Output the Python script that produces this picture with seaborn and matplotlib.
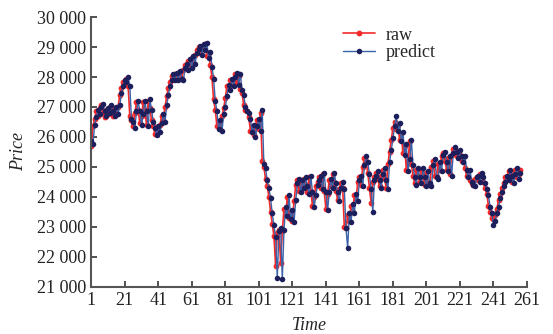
import numpy as np
import pandas as pd
import matplotlib
matplotlib.use("Agg")
import matplotlib.pyplot as plt
from matplotlib.ticker import FuncFormatter
import seaborn as sns

# raw price series
raw = [
    25700, 26350, 26600, 26850, 26700, 26950, 27050, 26800, 26650, 26900,
    26750, 27000, 26850, 26700, 26950, 26750, 27000, 27400, 27650, 27850,
    27800, 27950, 27700, 26700, 26550, 26350, 26800, 27150, 26900, 26450,
    26700, 27150, 26900, 26400, 27200, 26950, 26550, 26350, 26100, 26300,
    26200, 26400, 26700, 26550, 27000, 27350, 27650, 27850, 28050, 27950,
    28100, 27950, 28150, 28000, 27950, 28250, 28400, 28300, 28550, 28350,
    28650, 28500, 28750, 28900, 29000, 28800, 29050, 28950, 29100, 28700,
    28800, 28400, 28000, 27250, 26900, 26350, 26500, 26250, 26700, 26950,
    27300, 27700, 27600, 27900, 27750, 27950, 28100, 27800, 28050, 27600,
    27450, 27050, 26900, 26850, 26650, 26200, 26350, 26050, 26300, 26550,
    26250, 26800, 25200, 25000, 24600, 24350, 24000, 23500, 23100, 22700,
    21700, 22800, 22900, 21800, 22850, 23600, 23400, 24000, 23300, 23500,
    23200, 23850, 24400, 24550, 24200, 24500, 24350, 24600, 24400, 24150,
    24650, 24200, 23700, 24000, 24350, 24500, 24650, 24300, 24750, 24200,
    23600, 24100, 24550, 24350, 24750, 24500, 24200, 23900, 24250, 24450,
    24300, 23000, 22950, 23400, 23200, 23700, 23500, 24050, 23900, 24500,
    24650, 24400, 25000, 25300, 25200, 24800, 24300, 23800, 24500, 24650,
    24800, 24600, 24350, 24700, 24900, 24600, 24300, 25100, 25500, 25900,
    26300, 26500, 26250, 26400, 25900, 26100, 25450, 25700, 24900, 25200,
    25850, 25100, 24700, 24450, 24900, 24700, 24500, 24900, 24700, 24400,
    24800, 24500, 24400, 25000, 25200, 24700, 24650, 25100, 24900, 25350,
    25450, 25200, 24900, 25300, 24750, 25400, 25600, 25550, 25350, 25500,
    25400, 25200, 25300, 24950, 24700, 24850, 24550, 24450, 24400, 24600,
    24650, 24550, 24750, 24700, 24500, 24300, 24100, 23700, 23500, 23300,
    23250, 23400, 23600, 23900, 24100, 24300, 24450, 24650, 24600, 24850,
    24750, 24500, 24700, 24900, 24650, 24750, 24900,
]

# model prediction series
predict = [
    25850, 25750, 26400, 26650, 26900, 26750, 27000, 27100, 26850, 26700,
    26950, 26800, 27050, 26850, 26700, 27000, 26750, 27050, 27450, 27700,
    27900, 27850, 28000, 27700, 26600, 26500, 26300, 26850, 27200, 26850,
    26400, 26750, 27200, 26850, 26350, 27250, 26900, 26500, 26300, 26050,
    26350, 26150, 26450, 26750, 26500, 27050, 27400, 27700, 27900, 28100,
    27900, 28150, 27900, 28200, 27950, 27900, 28300, 28450, 28250, 28600,
    28300, 28700, 28450, 28800, 28950, 29050, 28750, 29100, 28900, 29150,
    28650, 28850, 28350, 27950, 27200, 26850, 26250, 26550, 26200, 26750,
    27000, 27350, 27750, 27550, 27950, 27700, 28000, 28150, 27750, 28100,
    27550, 27400, 27000, 26850, 26800, 26600, 26150, 26400, 26000, 26350,
    26600, 26200, 26900, 25100, 24950, 24550, 24300, 23950, 23450, 23050,
    22650, 21300, 22850, 22950, 21250, 22900, 23650, 23350, 24050, 23250,
    23550, 23150, 23900, 24450, 24600, 24150, 24550, 24300, 24650, 24350,
    24100, 24700, 24150, 23650, 24050, 24400, 24550, 24700, 24250, 24800,
    24150, 23550, 24150, 24600, 24300, 24800, 24450, 24150, 23850, 24300,
    24500, 24250, 22950, 22300, 23450, 23150, 23750, 23450, 24100, 23850,
    24550, 24700, 24350, 25050, 25350, 25150, 24750, 24250, 23500, 24550,
    24700, 24850, 24550, 24300, 24750, 24950, 24550, 24250, 25150, 25550,
    25950, 26350, 26700, 26200, 26450, 25850, 26150, 25400, 25750, 24850,
    25250, 25900, 25050, 24650, 24400, 24950, 24650, 24450, 24950, 24650,
    24350, 24850, 24450, 24350, 25050, 25250, 24650, 24600, 25150, 24850,
    25400, 25500, 25150, 24850, 25350, 24700, 25450, 25650, 25500, 25300,
    25550, 25350, 25150, 25350, 24900, 24650, 24900, 24500, 24400, 24350,
    24650, 24700, 24500, 24800, 24650, 24450, 24250, 24050, 23650, 23450,
    23050, 23200, 23450, 23650, 23950, 24150, 24350, 24500, 24700, 24550,
    24900, 24700, 24450, 24750, 24950, 24600, 24800,
]

time = list(range(1, len(raw) + 1))
x_ticks = list(range(1, 262, 20))
y_ticks = list(range(21000, 30001, 1000))

df = pd.DataFrame({"Time": time, "raw": raw, "predict": predict})

sns.set_style("ticks")
plt.rcParams["font.family"] = ["Liberation Serif", "DejaVu Serif"]

fig = plt.figure(figsize=(5.53, 3.34), dpi=100)
ax = fig.add_axes([0.165, 0.141, 0.788, 0.808])

sns.lineplot(data=df, x="Time", y="raw", ax=ax, color="#f42a2a", linewidth=1.2,
             marker="o", markersize=4.2, markeredgewidth=0, label="raw")
sns.lineplot(data=df, x="Time", y="predict", ax=ax, color="#3a62a8", linewidth=1.0,
             marker="o", markersize=4, markeredgewidth=0,
             markerfacecolor="#1c1f5c", label="predict")

ax.set_xlim(1, 261)
ax.set_ylim(21000, 30000)
ax.set_xticks(x_ticks)
ax.set_yticks(y_ticks)
ax.yaxis.set_major_formatter(FuncFormatter(lambda v, p: f"{int(v):,}".replace(",", " ")))
ax.tick_params(direction="in", length=4, width=1.2, labelsize=13, colors="#333333",
               labelcolor="#222222")
for s in ["left", "bottom"]:
    ax.spines[s].set_color("#555555")
    ax.spines[s].set_linewidth(1.5)
sns.despine(ax=ax)

ax.set_xlabel("Time", fontsize=13, style="italic", labelpad=6)
ax.set_ylabel("Price", fontsize=13, style="italic", labelpad=7)

ax.legend(loc="upper left", bbox_to_anchor=(0.54, 1.025), frameon=False, fontsize=13,
          handlelength=1.8, handletextpad=0.6, labelspacing=0.05)

fig.savefig("out.png", dpi=100)
